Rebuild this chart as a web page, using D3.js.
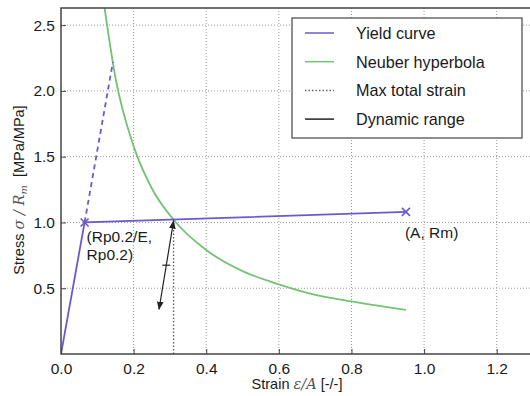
<!DOCTYPE html>
<html lang="en">
<head>
<meta charset="UTF-8">
<title>Neuber</title>
<script src="https://d3js.org/d3.v7.min.js"></script>
<style>
  body { margin: 0; background: #fff; }
  text { font-family: "Liberation Sans", Arial, sans-serif; fill: #1a1a1a; }
</style>
</head>
<body>
<div id="chart"></div>
<script>
  // values
  const yieldCurve = [[0, 0], [0.065, 1.0], [0.95, 1.08]];
  const yieldMarks = [[0.065, 1.0], [0.95, 1.08]];
  const elasticExt = [[0.065, 1.0], [0.143, 2.22]];
  const neuber = [[0.12, 2.63], [0.15, 2.1], [0.2, 1.58], [0.25, 1.26], [0.31, 1.02],
                  [0.4, 0.79], [0.5, 0.63], [0.6, 0.53], [0.7, 0.45], [0.8, 0.40], [0.95, 0.335]];
  const maxStrain = [[0.31, 0], [0.31, 1.02]];
  const dynRange = [[0.31, 1.01], [0.27, 0.34]];
  const xTicks = [0.0, 0.2, 0.4, 0.6, 0.8, 1.0, 1.2];
  const yTicks = [0.5, 1.0, 1.5, 2.0, 2.5];
  const legendItems = ["Yield curve", "Neuber hyperbola", "Max total strain", "Dynamic range"];

  const W = 530, H = 396;
  const purple = "#6a5acd", green = "#74c374";

  const svg = d3.select("#chart").append("svg").attr("width", W).attr("height", H);

  const x = d3.scaleLinear().domain([0, 1.3]).range([61, 533]);
  const y = d3.scaleLinear().domain([0, 2.63]).range([354, 8]);

  svg.append("defs").append("clipPath").attr("id", "clip")
    .append("rect").attr("x", 61).attr("y", 8).attr("width", 472).attr("height", 346);

  // grid
  const grid = svg.append("g").attr("stroke", "#999").attr("stroke-dasharray", "1,2").attr("stroke-width", 1);
  xTicks.slice(1).forEach(t => grid.append("line").attr("x1", x(t)).attr("x2", x(t)).attr("y1", 8).attr("y2", 354));
  yTicks.forEach(t => grid.append("line").attr("x1", 61).attr("x2", 533).attr("y1", y(t)).attr("y2", y(t)));

  const line = d3.line().x(d => x(d[0])).y(d => y(d[1]));
  const plot = svg.append("g").attr("clip-path", "url(#clip)");

  plot.append("path").datum(neuber).attr("d", line.curve(d3.curveMonotoneX))
    .attr("fill", "none").attr("stroke", green).attr("stroke-width", 1.8);
  line.curve(d3.curveLinear);

  plot.append("path").datum(elasticExt).attr("d", line)
    .attr("fill", "none").attr("stroke", purple).attr("stroke-width", 1.8).attr("stroke-dasharray", "5,4");
  plot.append("path").datum(yieldCurve).attr("d", line)
    .attr("fill", "none").attr("stroke", purple).attr("stroke-width", 1.8);
  plot.selectAll(".mk").data(yieldMarks).enter().append("path")
    .attr("d", d => { const cx = x(d[0]), cy = y(d[1]); return `M${cx-4},${cy-4}L${cx+4},${cy+4}M${cx-4},${cy+4}L${cx+4},${cy-4}`; })
    .attr("stroke", purple).attr("stroke-width", 1.6);

  plot.append("path").datum(maxStrain).attr("d", line)
    .attr("fill", "none").attr("stroke", "#555").attr("stroke-width", 1.3).attr("stroke-dasharray", "1.5,2");

  // dynamic range double arrow
  svg.append("defs").append("marker").attr("id", "ah").attr("viewBox", "0 0 10 10")
    .attr("refX", 9).attr("refY", 5).attr("markerWidth", 7).attr("markerHeight", 7)
    .attr("orient", "auto-start-reverse")
    .append("path").attr("d", "M0,1L10,5L0,9z").attr("fill", "#222");
  plot.append("path").datum(dynRange).attr("d", line)
    .attr("stroke", "#222").attr("stroke-width", 1.2)
    .attr("marker-start", "url(#ah)").attr("marker-end", "url(#ah)");
  const mid = [(dynRange[0][0] + dynRange[1][0]) / 2, (dynRange[0][1] + dynRange[1][1]) / 2];
  plot.append("line").attr("x1", x(mid[0]) - 4).attr("x2", x(mid[0]) + 4)
    .attr("y1", y(mid[1])).attr("y2", y(mid[1])).attr("stroke", "#222").attr("stroke-width", 1.2);

  // annotations
  const ann1 = svg.append("text").attr("font-size", 15.5);
  ann1.append("tspan").attr("x", x(0.065) + 2).attr("y", y(1.0) + 20).text("(Rp0.2/E,");
  ann1.append("tspan").attr("x", x(0.065) + 2).attr("y", y(1.0) + 38).text("Rp0.2)");
  svg.append("text").attr("font-size", 15.5).attr("x", x(0.95) - 1).attr("y", y(1.08) + 26).text("(A, Rm)");

  // frame
  svg.append("rect").attr("x", 61).attr("y", 8).attr("width", 472).attr("height", 346)
    .attr("fill", "none").attr("stroke", "#444").attr("stroke-width", 1.5);

  // axes
  const xa = svg.append("g").attr("transform", "translate(0,354)")
    .call(d3.axisBottom(x).tickValues(xTicks).tickFormat(d3.format(".1f")).tickSize(-5).tickPadding(9));
  const ya = svg.append("g").attr("transform", "translate(61,0)")
    .call(d3.axisLeft(y).tickValues(yTicks).tickFormat(d3.format(".1f")).tickSize(-5).tickPadding(6));
  [xa, ya].forEach(a => {
    a.select(".domain").remove();
    a.selectAll("line").attr("stroke", "#444");
    a.selectAll("text").attr("font-size", 15.5).attr("fill", "#1a1a1a")
      .style("font-family", "'Liberation Sans', Arial, sans-serif");
  });

  // axis labels
  const xl = svg.append("text").attr("x", 297).attr("y", 389).attr("text-anchor", "middle").attr("font-size", 14.5);
  xl.append("tspan").text("Strain ");
  xl.append("tspan").attr("font-family", "'DejaVu Serif', serif").attr("font-style", "italic").attr("fill", "#555").text("ε/A");
  xl.append("tspan").text(" [-/-]");

  const yl = svg.append("text").attr("transform", "translate(24,190) rotate(-90)")
    .attr("text-anchor", "middle").attr("font-size", 14.5);
  yl.append("tspan").text("Stress ");
  yl.append("tspan").attr("font-family", "'DejaVu Serif', serif").attr("font-style", "italic").attr("fill", "#555").text("σ / R");
  yl.append("tspan").attr("font-family", "'DejaVu Serif', serif").attr("font-style", "italic").attr("fill", "#555")
    .attr("font-size", 10).attr("dy", 3).text("m");
  yl.append("tspan").attr("dy", -3).text("\u00a0\u00a0[MPa/MPa]");

  // legend
  const lg = svg.append("g");
  lg.append("rect").attr("x", 292).attr("y", 18).attr("width", 230).attr("height", 120)
    .attr("fill", "#fff").attr("stroke", "#444").attr("stroke-width", 1.2);
  const legendStyles = [
    { stroke: purple, dash: null },
    { stroke: green, dash: null },
    { stroke: "#666", dash: "1.5,2" },
    { stroke: "#222", dash: null }
  ];
  legendItems.forEach((name, i) => {
    const ly = 33 + i * 28.7;
    lg.append("line").attr("x1", 305).attr("x2", 334).attr("y1", ly).attr("y2", ly)
      .attr("stroke", legendStyles[i].stroke).attr("stroke-width", 1.5)
      .attr("stroke-dasharray", legendStyles[i].dash);
    lg.append("text").attr("x", 356).attr("y", ly + 6).attr("font-size", 16.2).text(name);
  });
</script>
</body>
</html>
